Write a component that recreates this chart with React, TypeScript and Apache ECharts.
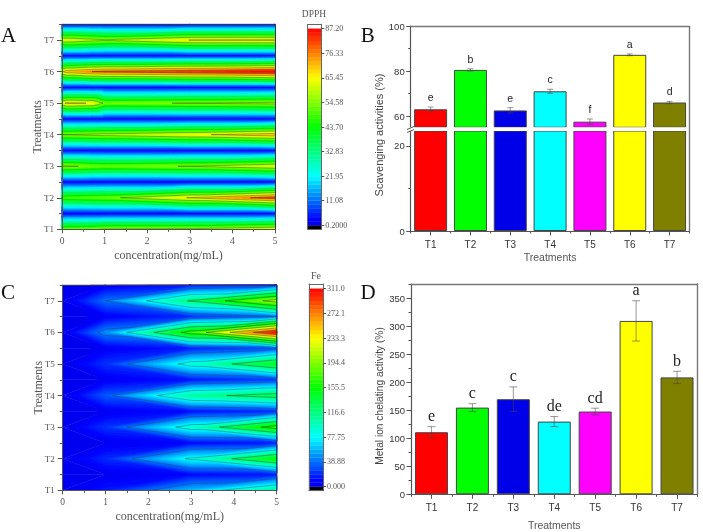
import React, { useEffect, useRef } from "react";
import * as echarts from "echarts";

const SERIF = "Liberation Serif";
const SANS = "Liberation Sans";
const treatments = ["T1", "T2", "T3", "T4", "T5", "T6", "T7"];
const barColors = ["#ff0000", "#00ff00", "#0000e8", "#00ffff", "#ff00ff", "#ffff00", "#808000"];

// Panel B
const dpphValues = [63, 80.5, 62.5, 71, 57.5, 87.2, 66];
const dpphErrors = [1, 0.5, 1.2, 0.9, 1.2, 0.4, 0.5];
const dpphLetters = ["e", "b", "e", "c", "f", "a", "d"];
// Panel D
const feValues = [111, 155, 170, 130, 148, 310, 209];
const feErrors = [10, 7, 22, 9, 6, 36, 11];
const feLetters = ["e", "c", "c", "de", "cd", "a", "b"];

// Panel A contour: concentration columns, one row per half treatment step
const dpphCols = [0, 0.1, 0.7, 1, 3, 5];
const dpphT1 = [50, 52, 53, 56, 57, 63];
const dpphT2 = [48, 49, 51, 52, 66, 80.5];
const dpphT3 = [55.5, 56, 53, 52, 55, 62.5];
const dpphT4 = [55, 55, 57, 58, 63.6, 71];
const dpphT5 = [62, 67, 65, 53, 55, 57.5];
const dpphT6 = [65, 70, 76.3, 78, 82.5, 87.2];
const dpphT7 = [62, 62, 58, 56, 65.6, 66];
const dpphTrough = [2, 2, 2, 2, 2, 2];
const dpphTicks = [0.2, 11.08, 21.95, 32.83, 43.7, 54.58, 65.45, 76.33, 87.2];
const dpphTickLabels = ["0.2000", "11.08", "21.95", "32.83", "43.70", "54.58", "65.45", "76.33", "87.20"];
const dpphLineAlpha = [0.08, 0.08, 0.12, 0.2, 0.5, 0.55, 0.55];

// Panel C contour
const feCols = [0, 1, 3, 5];
const feT1 = [0, 15, 60, 111];
const feT2 = [0, 20, 82, 155];
const feT3 = [0, 22, 90, 170];
const feT4 = [0, 33, 107, 130];
const feT5 = [0, 22, 88, 148];
const feT6 = [0, 47.5, 170, 310];
const feT7 = [0, 39, 120, 209];
const feTrough15 = [0, 3, 10, 15];
const feTrough25 = [0, 3, 10, 15];
const feTrough35 = [0, 4, 12, 20];
const feTrough45 = [0, 4, 14, 25];
const feTrough55 = [0, 5, 16, 30];
const feTrough65 = [0, 6, 20, 38];
const feTrough75 = [0, 5, 14, 25];
const feTicks = [0, 38.88, 77.75, 116.6, 155.5, 194.4, 233.3, 272.1, 311];
const feTickLabels = ["0.000", "38.88", "77.75", "116.6", "155.5", "194.4", "233.3", "272.1", "311.0"];
const feLineAlpha = [0.4, 0.5, 0.55, 0.6, 0.6, 0.6, 0.6];

const rowYs = [1, 1.5, 2, 2.5, 3, 3.5, 4, 4.5, 5, 5.5, 6, 6.5, 7, 7.5];
const dpphRows = [dpphT1, dpphTrough, dpphT2, dpphTrough, dpphT3, dpphTrough, dpphT4, dpphTrough, dpphT5, dpphTrough, dpphT6, dpphTrough, dpphT7, dpphTrough];
const feRows = [feT1, feTrough15, feT2, feTrough25, feT3, feTrough35, feT4, feTrough45, feT5, feTrough55, feT6, feTrough65, feT7, feTrough75];

const STOPS: [number, number[]][] = [
  [0, [0, 0, 238]],
  [0.03, [0, 0, 255]],
  [0.25, [0, 255, 255]],
  [0.5, [0, 255, 0]],
  [0.75, [255, 255, 0]],
  [1, [255, 0, 0]],
];
function ramp(t: number) {
  for (let i = 1; i < STOPS.length; i++) {
    if (t <= STOPS[i][0]) {
      const [a, ca] = STOPS[i - 1];
      const [b, cb] = STOPS[i];
      const f = (t - a) / (b - a);
      return `rgb(${ca.map((c, k) => Math.round(c + (cb[k] - c) * f)).join(",")})`;
    }
  }
  return "rgb(255,0,0)";
}

type V = [number, number, number];
function clipAbove(poly: V[], level: number): V[] {
  const out: V[] = [];
  for (let i = 0; i < poly.length; i++) {
    const a = poly[i];
    const b = poly[(i + 1) % poly.length];
    const ia = a[2] >= level;
    const ib = b[2] >= level;
    if (ia) out.push(a);
    if (ia !== ib) {
      const f = (level - a[2]) / (b[2] - a[2]);
      out.push([a[0] + (b[0] - a[0]) * f, a[1] + (b[1] - a[1]) * f, level]);
    }
  }
  return out;
}
function segment(tri: V[], level: number): number[][] {
  const pts: number[][] = [];
  for (let i = 0; i < 3; i++) {
    const a = tri[i];
    const b = tri[(i + 1) % 3];
    if ((a[2] >= level) !== (b[2] >= level)) {
      const f = (level - a[2]) / (b[2] - a[2]);
      pts.push([a[0] + (b[0] - a[0]) * f, a[1] + (b[1] - a[1]) * f]);
    }
  }
  return pts;
}
// every grid cell becomes two triangles; the diagonal runs from the ridge's left corner to the trough's right corner
function trianglesOf(rows: number[][], cols: number[]): V[][] {
  const tris: V[][] = [];
  for (let r = 0; r + 1 < rows.length; r++) {
    for (let c = 0; c + 1 < cols.length; c++) {
      const a: V = [cols[c], rowYs[r], rows[r][c]];
      const b: V = [cols[c + 1], rowYs[r], rows[r][c + 1]];
      const p: V = [cols[c + 1], rowYs[r + 1], rows[r + 1][c + 1]];
      const d: V = [cols[c], rowYs[r + 1], rows[r + 1][c]];
      if (a[2] + b[2] >= d[2] + p[2]) tris.push([a, b, p], [a, p, d]);
      else tris.push([a, b, d], [b, p, d]);
    }
  }
  return tris;
}

function contourSeries(rows: number[][], cols: number[], ticks: number[], xi: number, yi: number, alphas: number[], bands: number) {
  const min = ticks[0];
  const max = ticks[ticks.length - 1];
  const step = (max - min) / bands;
  const tris = trianglesOf(rows, cols);
  const bandData = Array.from({ length: bands }, (_, i) => [i]);
  const levelData = ticks.slice(1, -1).map((level, k) => [level, alphas[k]]);
  return [
    {
      // painted from the lowest band up over the whole mesh, each band covering the ones beneath it
      type: "custom", xAxisIndex: xi, yAxisIndex: yi, data: bandData, encode: { tooltip: 0 }, z: 2, silent: true,
      renderItem(_: any, api: any) {
        const i = api.value(0);
        const level = min + i * step;
        const fill = ramp((i + 0.5) / bands);
        const children: any[] = [];
        for (const tri of tris) {
          const poly = i === 0 ? tri : clipAbove(tri, level);
          if (poly.length < 3) continue;
          children.push({
            type: "polygon",
            shape: { points: poly.map((p) => api.coord([p[0], p[1]])) },
            style: { fill, stroke: fill, lineWidth: 0.4 },
          });
        }
        return { type: "group", children };
      },
    },
    {
      type: "custom", xAxisIndex: xi, yAxisIndex: yi, data: levelData, encode: { tooltip: 0 }, z: 3, silent: true,
      renderItem(_: any, api: any) {
        const level = api.value(0);
        const stroke = `rgba(20,40,30,${api.value(1)})`;
        const children: any[] = [];
        for (const tri of tris) {
          const s = segment(tri, level);
          if (s.length !== 2) continue;
          const p = api.coord(s[0]);
          const q = api.coord(s[1]);
          children.push({
            type: "line",
            shape: { x1: p[0], y1: p[1], x2: q[0], y2: q[1] },
            style: { stroke, lineWidth: 0.7 },
          });
        }
        return { type: "group", children };
      },
    },
  ];
}

function colorbarSeries(ticks: number[], xi: number, yi: number, axisMin: number, axisMax: number) {
  const BAR_BANDS = 48;
  const min = ticks[0];
  const max = ticks[ticks.length - 1];
  const step = (max - min) / BAR_BANDS;
  const data: number[][] = [[axisMin, min, -1], [max, axisMax, 2]];
  for (let i = 0; i < BAR_BANDS; i++) data.push([min + i * step, min + (i + 1) * step, (i + 0.5) / BAR_BANDS]);
  return {
    type: "custom", xAxisIndex: xi, yAxisIndex: yi, data, encode: { y: [0, 1] }, z: 2, silent: true,
    renderItem(_: any, api: any) {
      const t = api.value(2);
      const a = api.coord([0, api.value(0)]);
      const b = api.coord([1, api.value(1)]);
      const fill = t < 0 ? "#000000" : t > 1 ? "#ffffff" : ramp(t);
      return {
        type: "rect",
        shape: { x: a[0], y: b[1], width: b[0] - a[0], height: a[1] - b[1] },
        style: { fill, stroke: fill, lineWidth: 0.3 },
      };
    },
  };
}

function errorSeries(values: number[], errors: number[], letters: string[], xi: number, yi: number, font: string, offset: number, cap: number) {
  return {
    type: "custom", xAxisIndex: xi, yAxisIndex: yi, z: 4, silent: true,
    data: values.map((v, i) => [i, v - errors[i], v + errors[i]]),
    encode: { x: 0, y: [1, 2] },
    renderItem(params: any, api: any) {
      const i = api.value(0);
      const lo = api.coord([i, api.value(1)]);
      const hi = api.coord([i, api.value(2)]);
      const stroke = "rgba(70,70,70,0.7)";
      const line = (x1: number, y1: number, x2: number, y2: number) => ({
        type: "line", shape: { x1, y1, x2, y2 }, style: { stroke, lineWidth: 0.8 },
      });
      return {
        type: "group",
        children: [
          line(lo[0], lo[1], hi[0], hi[1]),
          line(lo[0] - cap, lo[1], lo[0] + cap, lo[1]),
          line(hi[0] - cap, hi[1], hi[0] + cap, hi[1]),
          {
            type: "text",
            style: {
              text: letters[params.dataIndex], x: hi[0], y: hi[1] - offset,
              fill: "#222", font, textAlign: "center", textVerticalAlign: "middle",
            },
          },
        ],
      };
    },
  };
}

function barSeries(values: number[], xi: number, yi: number) {
  return {
    type: "bar", xAxisIndex: xi, yAxisIndex: yi, barWidth: 33, z: 2, silent: true,
    data: values.map((value, i) => ({
      value,
      itemStyle: { color: barColors[i], borderColor: "#444", borderWidth: 1 },
    })),
  };
}

const line = (color: string, width = 1) => ({ show: true, onZero: false, lineStyle: { color, width } });

function buildOption() {
  const grid: any[] = [];
  const xAxis: any[] = [];
  const yAxis: any[] = [];
  const series: any[] = [];
  const addX = (c: any) => xAxis.push({ z: 5, splitLine: { show: false }, ...c }) - 1;
  const addY = (c: any) => yAxis.push({ z: 5, splitLine: { show: false }, ...c }) - 1;
  const addGrid = (left: number, right: number, top: number, bottom: number) =>
    grid.push({ left, top, width: right - left, height: bottom - top, containLabel: false }) - 1;
  const frameX = (g: number, position: string, color: string, width = 1) =>
    addX({ gridIndex: g, type: "value", min: 0, max: 1, position, axisLine: line(color, width), axisTick: { show: false }, axisLabel: { show: false } });
  const frameY = (g: number, position: string, color: string, width = 1) =>
    addY({ gridIndex: g, type: "value", min: 0, max: 1, position, axisLine: line(color, width), axisTick: { show: false }, axisLabel: { show: false } });

  // contour panels
  const DARK = "#555";
  const contour = (g: number, rows: number[][], cols: number[], ticks: number[], alphas: number[], bands: number) => {
    const xi = addX({
      gridIndex: g, type: "value", min: 0, max: 5, interval: 1, position: "bottom",
      name: "concentration(mg/mL)", nameLocation: "middle", nameGap: 20, nameMoveOverlap: false,
      nameTextStyle: { fontFamily: SERIF, fontSize: 12, color: DARK },
      axisLine: line(DARK), axisTick: { show: true, length: 4, lineStyle: { color: DARK } },
      minorTick: { show: true, splitNumber: 2, length: 2.5, lineStyle: { color: DARK } },
      axisLabel: { fontFamily: SERIF, fontSize: 9.5, color: DARK, margin: 7 },
    });
    const yi = addY({
      gridIndex: g, type: "value", min: 1, max: 7.5, position: "left",
      name: "Treatments", nameLocation: "middle", nameGap: 19, nameMoveOverlap: false,
      nameTextStyle: { fontFamily: SERIF, fontSize: 12, color: DARK },
      axisLine: line(DARK),
      axisTick: { show: true, length: 5, customValues: [1, 2, 3, 4, 5, 6, 7], lineStyle: { color: DARK } },
      axisLabel: { fontFamily: SERIF, fontSize: 9, color: DARK, margin: 8, customValues: [1, 2, 3, 4, 5, 6, 7], formatter: (v: number) => treatments[Math.round(v) - 1] },
    });
    addY({
      gridIndex: g, type: "value", min: 1, max: 7.5, position: "left",
      axisLine: { show: false }, axisLabel: { show: false },
      axisTick: { show: true, length: 3, customValues: [1.5, 2.5, 3.5, 4.5, 5.5, 6.5, 7.5], lineStyle: { color: DARK } },
    });
    frameX(g, "top", "#335");
    frameY(g, "right", "#335");
    series.push(...contourSeries(rows, cols, ticks, xi, yi, alphas, bands));
  };
  const colorbar = (g: number, ticks: number[], labels: string[], pxPerUnit: number, padBottom: number, padTop: number) => {
    const lo = ticks[0] - padBottom / pxPerUnit;
    const hi = ticks[ticks.length - 1] + padTop / pxPerUnit;
    const xi = addX({ gridIndex: g, type: "value", min: 0, max: 1, position: "bottom", axisLine: line("#666"), axisTick: { show: false }, axisLabel: { show: false } });
    frameX(g, "top", "#666");
    frameY(g, "left", "#666");
    const yi = addY({
      gridIndex: g, type: "value", min: lo, max: hi, position: "right",
      axisLine: line("#666"),
      axisTick: { show: true, length: 3, customValues: ticks, lineStyle: { color: "#555" } },
      axisLabel: {
        fontFamily: SERIF, fontSize: 8, color: "#555", margin: 4, customValues: ticks,
        formatter: (v: number) => labels[ticks.indexOf(v)] ?? "",
      },
    });
    series.push(colorbarSeries(ticks, xi, yi, lo, hi));
  };

  const gA = addGrid(62, 275, 24.3, 229.3);
  contour(gA, dpphRows, dpphCols, dpphTicks, dpphLineAlpha, 64);
  const cbA = addGrid(307.7, 321.3, 24.3, 229.3);
  colorbar(cbA, dpphTicks, dpphTickLabels, 196.6 / 87, 4, 4.4);

  const gC = addGrid(62.7, 276.7, 285, 490.3);
  contour(gC, feRows, feCols, feTicks, feLineAlpha, 96);
  const cbC = addGrid(309, 323, 284, 490.7);
  colorbar(cbC, feTicks, feTickLabels, 198 / 311, 4, 4.7);

  // bar helpers
  const INK = "#555";
  const FRAME = "#777";
  const catAxes = (g: number, name?: string, gap?: number) => {
    const xi = addX({
      gridIndex: g, type: "category", data: treatments, position: "bottom",
      name, nameLocation: "middle", nameGap: gap, nameMoveOverlap: false,
      nameTextStyle: { fontFamily: SANS, fontSize: 10.5, color: INK },
      axisLine: line(INK, 1.2),
      axisTick: { show: true, alignWithLabel: true, length: 4.5, lineStyle: { color: INK } },
      axisLabel: { fontFamily: SANS, fontSize: 10, color: "#333", margin: 8, interval: 0 },
    });
    addX({
      gridIndex: g, type: "category", data: treatments, position: "bottom",
      axisLine: { show: false }, axisLabel: { show: false },
      axisTick: { show: true, length: 2.5, lineStyle: { color: INK } },
    });
    return xi;
  };
  const valueAxis = (g: number, min: number, max: number, major: number[], minor: number[]) => {
    const yi = addY({
      gridIndex: g, type: "value", min, max, position: "left",
      axisLine: line(INK, 1.2),
      axisTick: { show: true, length: 4.5, customValues: major, lineStyle: { color: INK } },
      axisLabel: { fontFamily: SANS, fontSize: 9.5, color: "#333", margin: 6, customValues: major },
    });
    addY({
      gridIndex: g, type: "value", min, max, position: "left",
      axisLine: { show: false }, axisLabel: { show: false },
      axisTick: { show: true, length: 2.5, customValues: minor, lineStyle: { color: INK } },
    });
    return yi;
  };

  // panel B: a broken axis drawn as two stacked grids with their own scales
  const gBU = addGrid(410.7, 689.5, 26, 127.3);
  const gBL = addGrid(410.7, 689.5, 131, 231);
  const buX = addX({
    gridIndex: gBU, type: "category", data: treatments, position: "top",
    axisLine: line(FRAME, 1.4), axisTick: { show: false }, axisLabel: { show: false },
  });
  const buY = valueAxis(gBU, 55, 100, [60, 80, 100], [70, 90]);
  const blX = catAxes(gBL, "Treatments", 20);
  const blY = valueAxis(gBL, 0, 23.5, [0, 20], [10]);
  series.push(barSeries(dpphValues, buX, buY));
  series.push(barSeries(dpphValues, blX, blY));
  series.push(errorSeries(dpphValues, dpphErrors, dpphLetters, buX, buY, `10.5px "${SANS}"`, 10, 3));

  // panel D
  const gD = addGrid(411, 697.5, 284, 494.3);
  const dX = catAxes(gD, "Treatments", 25);
  const dY = valueAxis(gD, 0, 376, [0, 50, 100, 150, 200, 250, 300, 350], [25, 75, 125, 175, 225, 275, 325, 375]);
  frameX(gD, "top", FRAME, 1.4);
  frameY(gD, "right", FRAME, 1.4);
  series.push(barSeries(feValues, dX, dY));
  series.push(errorSeries(feValues, feErrors, feLetters, dX, dY, `16px "${SERIF}"`, 11, 4));

  const panelLetter = (text: string, x: number, y: number) => ({
    type: "text", x, y,
    style: { text, fill: "#111", font: `21px "${SERIF}"`, textAlign: "center", textVerticalAlign: "middle" },
  });
  const graphic = [
    // the white strip of the axis break, and panel B's continuous right frame
    { type: "rect", z: 20, shape: { x: 408, y: 127.2, width: 279, height: 3.8 }, style: { fill: "#fff" } },
    { type: "line", z: 21, shape: { x1: 689.5, y1: 26, x2: 689.5, y2: 231 }, style: { stroke: FRAME, lineWidth: 1.4 } },
    { type: "line", z: 21, shape: { x1: 407, y1: 129.5, x2: 414, y2: 126.5 }, style: { stroke: INK, lineWidth: 1 } },
    { type: "line", z: 21, shape: { x1: 407, y1: 132.5, x2: 414, y2: 129.5 }, style: { stroke: INK, lineWidth: 1 } },
    panelLetter("A", 8.5, 35),
    panelLetter("B", 367.7, 35),
    panelLetter("C", 8, 292),
    panelLetter("D", 368, 292),
    {
      type: "text", x: 314, y: 14,
      style: { text: "DPPH", fill: "#555", font: `9.5px "${SERIF}"`, textAlign: "center", textVerticalAlign: "middle" },
    },
    {
      type: "text", x: 316, y: 275,
      style: { text: "Fe", fill: "#555", font: `10px "${SERIF}"`, textAlign: "center", textVerticalAlign: "middle" },
    },
    {
      type: "text", x: 379, y: 135, rotation: Math.PI / 2,
      style: { text: "Scavenging activities (%)", fill: "#444", font: `11px "${SANS}"`, textAlign: "center", textVerticalAlign: "middle" },
    },
    {
      type: "text", x: 379, y: 396, rotation: Math.PI / 2,
      style: { text: "Metal ion chelating activity (%)", fill: "#444", font: `10.2px "${SANS}"`, textAlign: "center", textVerticalAlign: "middle" },
    },
  ];

  return { animation: false, backgroundColor: "#fff", grid, xAxis, yAxis, series, graphic };
}

export default function App() {
  const ref = useRef<HTMLDivElement>(null);
  useEffect(() => {
    const chart = echarts.init(ref.current!, undefined, { renderer: "svg" });
    chart.setOption(buildOption() as any);
    return () => chart.dispose();
  }, []);
  return <div ref={ref} style={{ position: "absolute", left: 0, top: 0, width: 703, height: 532, filter: "blur(0.4px)" }} />;
}
